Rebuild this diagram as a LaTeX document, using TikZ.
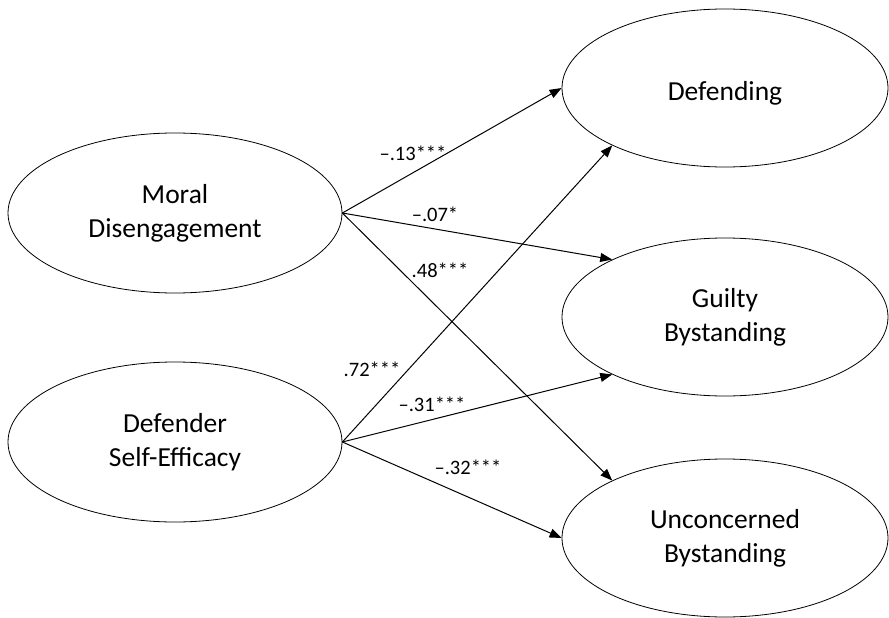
\documentclass[tikz,border=0pt]{standalone}
\usepackage{fontspec}
\setmainfont{Carlito}
\usetikzlibrary{shapes.geometric, arrows.meta}
\begin{document}
\begin{tikzpicture}[x=1pt, y=-1pt, line cap=round, line join=round, >={Triangle[length=12pt, width=9pt]},
		latent/.style={ellipse, draw, line width=0.8pt, minimum width=334pt, minimum height=160pt, inner sep=0pt, align=center, font=\fontsize{27.5}{34}\selectfont},
		outcome/.style={latent, minimum width=326pt, minimum height=158pt},
		effect/.style={->, line width=1pt},
		coef/.style={font=\fontsize{20.5}{23}\selectfont}]
	\useasboundingbox (0,0) rectangle (889,618);
	% predictors
	\node[latent] (moral) at (175,213) {Moral\\Disengagement};
	\node[latent] (dse) at (175,442) {Defender\\Self-Efficacy};
	% outcomes
	\node[outcome, text height=30pt] (def) at (725,88) {Defending};
	\node[outcome] (guilty) at (725,317) {Guilty\\Bystanding};
	\node[outcome] (unc) at (725,538) {Unconcerned\\Bystanding};
	% paths
	\draw[effect] (moral.east) -- (def.west);
	\draw[effect] (moral.east) -- (guilty.153);
	\draw[effect] (moral.east) -- (unc.153);
	\draw[effect] (dse.east) -- (def.207);
	\draw[effect] (dse.east) -- (guilty.207);
	\draw[effect] (dse.east) -- (unc.west);
	% coefficients
	\path (413,153) node[coef] (c1) {--.13***} (435,214) node[coef] (c2) {--.07*} (440,270) node[coef] (c3) {.48***};
	\path (372,369) node[coef] (c4) {.72***} (432,404) node[coef] (c5) {--.31***} (468,467) node[coef] (c6) {--.32***};
\end{tikzpicture}
\end{document}
